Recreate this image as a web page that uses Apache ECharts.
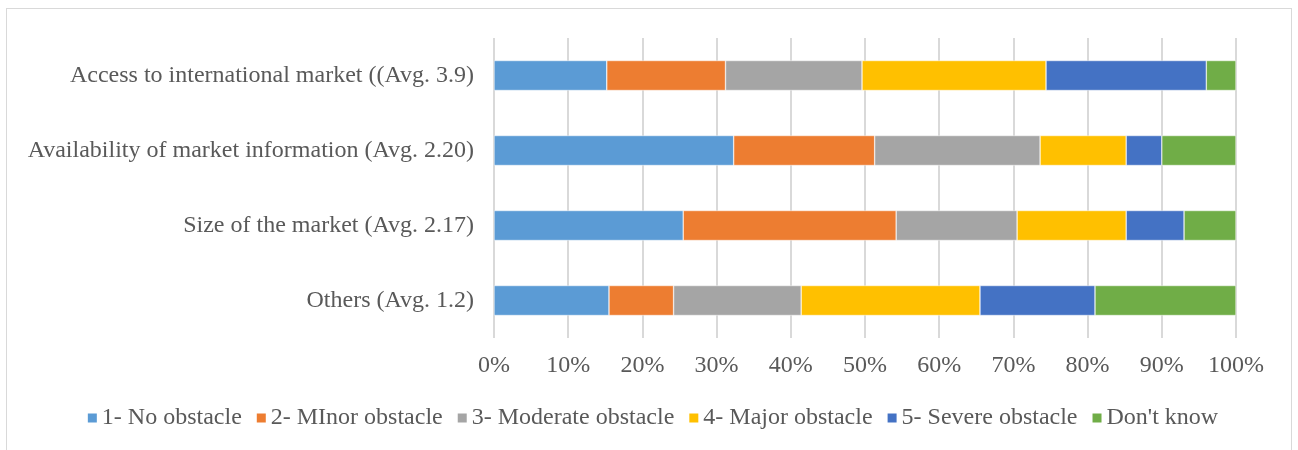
<!DOCTYPE html>
<html>
<head>
<meta charset="utf-8">
<script src="https://cdn.jsdelivr.net/npm/echarts@6/dist/echarts.min.js"></script>
<style>
  html, body { margin: 0; padding: 0; background: #fff; }
  #frame { position: absolute; left: 6px; top: 8px; width: 1286px; height: 460px; border: 1px solid #d9d9d9; box-sizing: border-box; }
  #chart { position: absolute; left: 0; top: 0; width: 1298px; height: 450px; }
</style>
</head>
<body>
<div id="frame"></div>
<div id="chart"></div>
<script>
// categories, bottom to top as echarts draws them
const categories = [
  'Others (Avg. 1.2)',
  'Size of the market (Avg. 2.17)',
  'Availability of market information (Avg. 2.20)',
  'Access to international market ((Avg. 3.9)'
]
const seriesNames = ['1- No obstacle', '2- MInor obstacle', '3- Moderate obstacle', '4- Major obstacle', '5- Severe obstacle', "Don't know"]
const colors = ['#5b9bd5', '#ed7d31', '#a5a5a5', '#ffc000', '#4472c4', '#70ad47']

const noObstacle = [15.5, 25.5, 32.3, 15.2]
const minorObstacle = [8.7, 28.7, 19.0, 16.0]
const moderateObstacle = [17.2, 16.3, 22.3, 18.4]
const majorObstacle = [24.1, 14.7, 11.6, 24.8]
const severeObstacle = [15.5, 7.8, 4.8, 21.6]
const dontKnow = [19.0, 7.0, 10.0, 4.0]

const xTicks = [0, 10, 20, 30, 40, 50, 60, 70, 80, 90, 100]

const values = [noObstacle, minorObstacle, moderateObstacle, majorObstacle, severeObstacle, dontKnow]
const font = 'Liberation Serif'
const textColor = '#595959'

// the legend component ignores fontFamily here, so lay the legend out by hand
function buildLegend() {
  const ctx = document.createElement('canvas').getContext('2d')
  ctx.font = '24px "' + font + '"'
  const icon = 9, iconGap = 5, itemGap = 15, cy = 418
  const widths = seriesNames.map(n => ctx.measureText(n).width)
  const total = widths.reduce((s, w) => s + icon + iconGap + w, 0) + itemGap * (seriesNames.length - 1)
  let x = (1298 - total) / 2 + 4
  const els = []
  seriesNames.forEach((n, i) => {
    els.push({ type: 'rect', shape: { x: x, y: cy - icon / 2, width: icon, height: icon }, style: { fill: colors[i] }, silent: true })
    x += icon + iconGap
    els.push({ type: 'text', x: x, y: cy, style: { text: n, fontFamily: font, fontSize: 24, fill: textColor, verticalAlign: 'middle' }, silent: true })
    x += widths[i] + itemGap
  })
  return els
}

const chart = echarts.init(document.getElementById('chart'))
chart.setOption({
  animation: false,
  textStyle: { fontFamily: font },
  grid: { left: 494, right: 62, top: 38, height: 300 },
  legend: { show: false, data: seriesNames },
  graphic: buildLegend(),
  xAxis: {
    type: 'value',
    min: 0,
    max: 100,
    interval: 10,
    axisLine: { show: false },
    axisTick: { show: false },
    splitLine: { lineStyle: { color: '#d9d9d9', width: 2 } },
    axisLabel: {
      fontFamily: font,
      fontSize: 24,
      color: textColor,
      margin: 16,
      formatter: v => xTicks.includes(v) ? v + '%' : ''
    }
  },
  yAxis: {
    type: 'category',
    data: categories,
    axisLine: { show: false },
    axisTick: { show: false },
    axisLabel: { fontFamily: font, fontSize: 24, color: textColor, margin: 20 }
  },
  series: values.map((d, i) => ({
    name: seriesNames[i],
    type: 'bar',
    stack: 'total',
    barWidth: 30,
    data: d,
    itemStyle: { color: colors[i], borderColor: '#ffffff', borderWidth: 0.5 }
  }))
})
</script>
</body>
</html>
